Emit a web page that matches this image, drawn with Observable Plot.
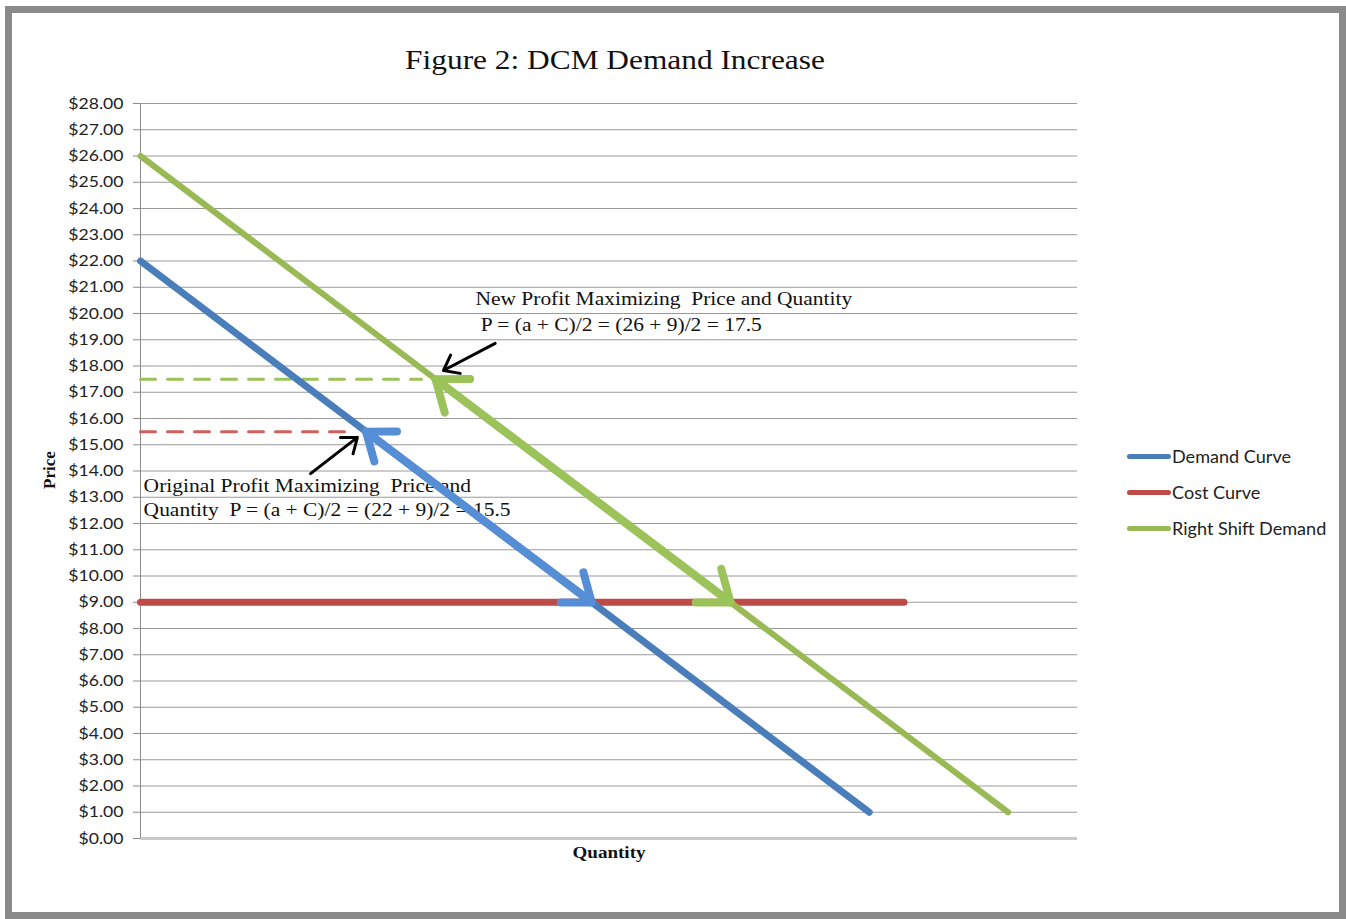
<!DOCTYPE html>
<html><head><meta charset="utf-8">
<script src="https://cdn.jsdelivr.net/npm/d3@7"></script>
<script src="https://cdn.jsdelivr.net/npm/@observablehq/plot@0.6"></script>
<style>
html,body{margin:0;padding:0;background:#fff}
body{width:1346px;height:919px;overflow:hidden;position:relative}
#chart{position:absolute;left:0;top:0}
#frame{position:absolute;left:5px;top:6px;width:1341px;height:913px;border:7px solid #8a8a8a;box-sizing:border-box;z-index:5;pointer-events:none}
.serif{font-family:"Liberation Serif","Times New Roman",serif;color:#111;white-space:nowrap}
#title{position:absolute;left:615px;top:60px;font-size:28px;transform:translate(-50%,-50%) scaleX(1.12)}
#xlabel{position:absolute;left:609px;top:853px;font-size:17px;font-weight:bold;transform:translate(-50%,-50%) scaleX(1.12)}
#ylabel{position:absolute;left:50px;top:470px;font-size:17px;font-weight:bold;transform:translate(-50%,-50%) rotate(-90deg)}
#legend{position:absolute;left:1127px;top:438px;font-family:Lato,sans-serif;font-size:16.3px;color:#222}
.row{display:flex;align-items:center;height:36px;white-space:nowrap}
.sw{width:44px;height:5px;border-radius:3px;margin-right:1px}
.lt{display:inline-block;transform:scaleX(1.11);transform-origin:left center}
</style></head><body>
<div id="chart"></div>
<div id="title" class="serif">Figure 2: DCM Demand Increase</div>
<div id="xlabel" class="serif">Quantity</div>
<div id="ylabel" class="serif">Price</div>
<div id="legend"></div>
<div id="frame"></div>
<script>
// ---- data ----
const priceTicks = [0,1,2,3,4,5,6,7,8,9,10,11,12,13,14,15,16,17,18,19,20,21,22,23,24,25,26,27,28];
const seriesNames = ["Demand Curve", "Cost Curve", "Right Shift Demand"];
const seriesColors = ["#4a7ebb", "#be4b48", "#98b954"];
const demandQ = [0, 21];
const demandP = [22, 1];
const costQ = [0, 22];
const costP = [9, 9];
const shiftQ = [0, 25];
const shiftP = [26, 1];
// dashed guide lines at the profit-maximizing prices
const origDashQ = [0, 6.05];
const origDashP = [15.5, 15.5];
const newDashQ = [0, 8.1];
const newDashP = [17.5, 17.5];
// double-headed arrows along the curves (from optimum to cost intersection)
const origArrowQ = [6.5, 13];
const origArrowP = [15.5, 9];
const newArrowQ = [8.5, 17];
const newArrowP = [17.5, 9];
// pointer arrows (start -> end)
const newPointerQ = [10.22, 8.73];
const newPointerP = [18.86, 17.83];
const origPointerQ = [4.90, 6.25];
const origPointerP = [13.90, 15.28];
// annotation lines
const noteText = ["New Profit Maximizing  Price and Quantity", " P = (a + C)/2 = (26 + 9)/2 = 17.5",
                  "Original Profit Maximizing  Price and", "Quantity  P = (a + C)/2 = (22 + 9)/2 = 15.5"];
const noteQ = [9.65, 9.65, 0.09, 0.09];
const noteP = [20.57, 19.58, 13.45, 12.5];

// ---- tables ----
const pts = (Q, P) => Q.map((q, i) => ({q, p: P[i]}));
const seg = (Q, P) => [{x1: Q[0], y1: P[0], x2: Q[1], y2: P[1]}];
const segRev = (Q, P) => [{x1: Q[1], y1: P[1], x2: Q[0], y2: P[0]}];
const notes = noteText.map((t, i) => ({t, q: noteQ[i], p: noteP[i]}));

const chart = Plot.plot({
  width: 1346, height: 919,
  marginLeft: 140, marginRight: 269, marginTop: 103, marginBottom: 81,
  x: {domain: [0, 27], axis: null},
  y: {domain: [0, 28], axis: null},
  style: {background: "transparent", overflow: "visible"},
  marks: [
    Plot.ruleY(priceTicks.filter(d => d > 0), {stroke: "#9a9a9a", strokeWidth: 1}),
    Plot.ruleY([0], {stroke: "#c8c8c8", strokeWidth: 3}),
    Plot.ruleX([0], {stroke: "#8c8c8c", strokeWidth: 1}),
    Plot.axisY({ticks: priceTicks, tickSize: 7, tickPadding: 10, tickFormat: d => "$" + d.toFixed(2),
      stroke: "#8c8c8c", fill: "#222", fontSize: 16, fontFamily: "Lato", label: null}),
    Plot.text(notes, {x: "q", y: "p", text: "t", textAnchor: "start", fontFamily: "Liberation Serif", fontSize: 19, fill: "#111"}),
    Plot.line(pts(origDashQ, origDashP), {x: "q", y: "p", stroke: "#d0605c", strokeWidth: 3, strokeDasharray: "15,12"}),
    Plot.line(pts(newDashQ, newDashP), {x: "q", y: "p", stroke: "#9bc35a", strokeWidth: 3, strokeDasharray: "15,12"}),
    Plot.line(pts(costQ, costP), {x: "q", y: "p", stroke: seriesColors[1], strokeWidth: 7, strokeLinecap: "round"}),
    Plot.line(pts(demandQ, demandP), {x: "q", y: "p", stroke: seriesColors[0], strokeWidth: 7, strokeLinecap: "round"}),
    Plot.line(pts(shiftQ, shiftP), {x: "q", y: "p", stroke: seriesColors[2], strokeWidth: 6, strokeLinecap: "round"}),
    Plot.arrow(seg(origArrowQ, origArrowP), {x1: "x1", y1: "y1", x2: "x2", y2: "y2", stroke: "#558ed5", strokeWidth: 8, headLength: 5.8, headAngle: 75}),
    Plot.arrow(segRev(origArrowQ, origArrowP), {x1: "x1", y1: "y1", x2: "x2", y2: "y2", stroke: "#558ed5", strokeWidth: 8, headLength: 5.8, headAngle: 75}),
    Plot.arrow(seg(newArrowQ, newArrowP), {x1: "x1", y1: "y1", x2: "x2", y2: "y2", stroke: "#9bc35a", strokeWidth: 8, headLength: 6.5, headAngle: 75}),
    Plot.arrow(segRev(newArrowQ, newArrowP), {x1: "x1", y1: "y1", x2: "x2", y2: "y2", stroke: "#9bc35a", strokeWidth: 8, headLength: 6.5, headAngle: 75}),
    Plot.arrow(seg(newPointerQ, newPointerP), {x1: "x1", y1: "y1", x2: "x2", y2: "y2", stroke: "#000", strokeWidth: 3, headLength: 8.5, headAngle: 75}),
    Plot.arrow(seg(origPointerQ, origPointerP), {x1: "x1", y1: "y1", x2: "x2", y2: "y2", stroke: "#000", strokeWidth: 3, headLength: 8.5, headAngle: 75})
  ]
});
document.getElementById("chart").appendChild(chart);

function stretch(sel, k) {
  chart.querySelectorAll(sel).forEach(t => {
    const w = t.getComputedTextLength();
    t.setAttribute("textLength", w * k);
    t.setAttribute("lengthAdjust", "spacingAndGlyphs");
  });
}
stretch('g[aria-label="y-axis tick label"] text', 1.1);
stretch('g[aria-label="text"] text', 1.13);

const legend = document.getElementById("legend");
seriesNames.forEach((name, i) => {
  const row = document.createElement("div");
  row.className = "row";
  const sw = document.createElement("div");
  sw.className = "sw";
  sw.style.background = seriesColors[i];
  const lt = document.createElement("span");
  lt.className = "lt";
  lt.textContent = name;
  row.appendChild(sw); row.appendChild(lt);
  legend.appendChild(row);
});
</script>
</body></html>
